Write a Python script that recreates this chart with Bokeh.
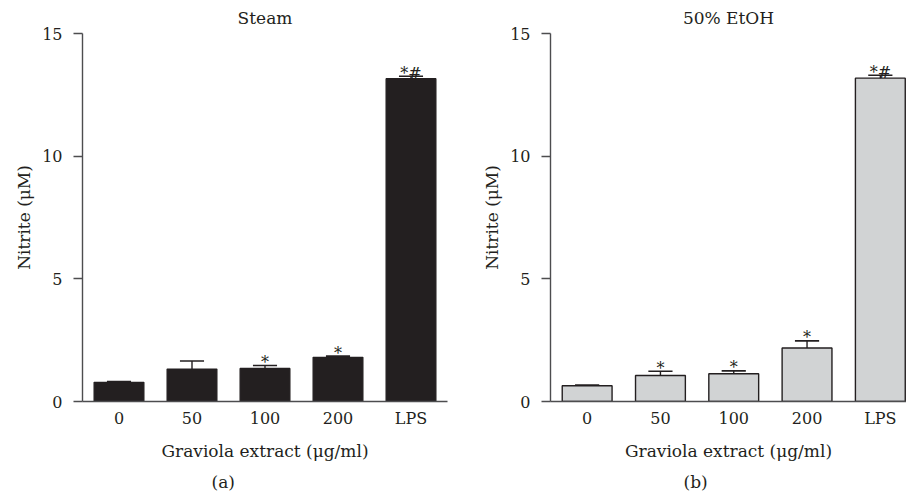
from bokeh.plotting import figure
from bokeh.layouts import row
from bokeh.models import ColumnDataSource, FixedTicker, Range1d, Title
from bokeh.core.properties import value
from bokeh.embed import file_html
from bokeh.resources import INLINE

categories = ["0", "50", "100", "200", "LPS"]
steam_values = [0.78, 1.32, 1.35, 1.80, 13.16]
steam_errors = [0.03, 0.33, 0.12, 0.05, 0.10]
steam_marks = ["", "", "*", "*", "*#"]
etoh_values = [0.64, 1.06, 1.13, 2.18, 13.18]
etoh_errors = [0.03, 0.17, 0.12, 0.29, 0.12]
etoh_marks = ["", "*", "*", "*", "*#"]
y_ticks = [0, 5, 10, 15]

FONT = "DejaVu Serif"
DARK = "#231f20"
AXIS = "#4d4d4f"


def make_panel(title, vals, errs, marks, fill, x_end, bl, br, width,
               caption, caption_offset):
    xs = [i + 0.5 for i in range(len(categories))]
    hi = [v + e for v, e in zip(vals, errs)]
    src = ColumnDataSource(dict(
        x=xs, top=vals, hi=hi,
        cl=[x - 0.165 for x in xs], cr=[x + 0.165 for x in xs],
        mark=marks,
    ))
    p = figure(width=width, height=502, output_backend="svg",
               toolbar_location=None, x_range=Range1d(0, x_end),
               y_range=Range1d(0, 15),
               min_border_left=bl, min_border_right=br,
               min_border_top=33, min_border_bottom=101)
    p.title.text = title
    p.title.align = "center"
    p.title.text_font = FONT
    p.title.text_font_size = "17px"
    p.title.text_font_style = "normal"
    p.title.text_color = DARK
    p.title.standoff = 11
    p.outline_line_color = None
    p.xgrid.visible = False
    p.ygrid.visible = False
    p.background_fill_color = "white"

    p.vbar(x="x", top="top", bottom=0, width=0.68, source=src,
           fill_color=fill, line_color=DARK, line_width=1.4)
    p.segment(x0="x", y0="top", x1="x", y1="hi", source=src,
              line_color=DARK, line_width=1.4)
    p.segment(x0="cl", y0="hi", x1="cr", y1="hi", source=src,
              line_color=DARK, line_width=1.6)
    p.text(x="x", y="hi", text="mark", source=src, text_align="center",
           text_baseline="alphabetic", y_offset=-3,
           text_font=value(FONT), text_font_size="16px", text_color=DARK)

    xa = p.xaxis[0]
    xa.ticker = FixedTicker(ticks=xs)
    xa.major_label_overrides = {x: c for x, c in zip(xs, categories)}
    xa.major_tick_line_color = None
    xa.major_tick_out = 0
    xa.major_tick_in = 0
    xa.minor_tick_line_color = None
    xa.major_label_standoff = 7
    xa.axis_line_color = AXIS
    xa.axis_line_width = 1.4
    xa.major_label_text_font = FONT
    xa.major_label_text_font_size = "16px"
    xa.major_label_text_color = DARK
    xa.axis_label = "Graviola extract (μg/ml)"
    xa.axis_label_text_font = FONT
    xa.axis_label_text_font_size = "17px"
    xa.axis_label_text_font_style = "normal"
    xa.axis_label_text_color = DARK
    xa.axis_label_standoff = 10

    ya = p.yaxis[0]
    ya.ticker = FixedTicker(ticks=y_ticks)
    ya.minor_tick_line_color = None
    ya.major_tick_out = 9
    ya.major_tick_in = 0
    ya.major_tick_line_color = AXIS
    ya.major_tick_line_width = 1.4
    ya.axis_line_color = AXIS
    ya.axis_line_width = 1.4
    ya.major_label_standoff = 11
    ya.major_label_text_font = FONT
    ya.major_label_text_font_size = "16px"
    ya.major_label_text_color = DARK
    ya.axis_label = "Nitrite (μM)"
    ya.axis_label_text_font = FONT
    ya.axis_label_text_font_size = "17px"
    ya.axis_label_text_font_style = "normal"
    ya.axis_label_text_color = DARK
    ya.axis_label_standoff = 5

    cap = Title(text=caption, align="left", offset=caption_offset,
                text_font=FONT, text_font_size="17px",
                text_font_style="normal", text_color=DARK, standoff=13)
    p.add_layout(cap, "below")
    return p


p1 = make_panel("Steam", steam_values, steam_errors, steam_marks, DARK,
                5.0, 82, 6, 453, "(a)", 129)
p2 = make_panel("50% EtOH", etoh_values, etoh_errors, etoh_marks, "#d1d3d4",
                4.857, 97, 0, 453, "(b)", 133)

layout = row(p1, p2)
open("out.html", "w").write(file_html(layout, INLINE))
